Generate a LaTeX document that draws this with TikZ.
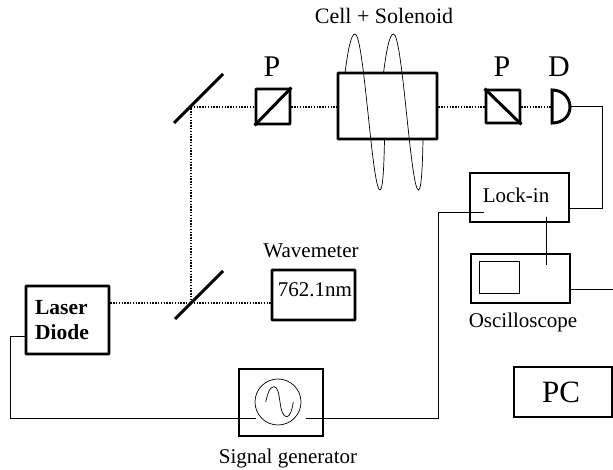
\documentclass[tikz,border=0pt]{standalone}
\usepackage{fontspec}
\setmainfont{Liberation Serif}
\usetikzlibrary{positioning}
\tikzset{
    box/.style={draw, line width=2.8pt, rectangle, rounded corners=0.5pt, inner sep=0pt},
    thinbox/.style={draw, line width=2pt, rectangle, inner sep=0pt},
    beam/.style={line width=2pt, dash pattern=on 1.4pt off 1.4pt},
    wire/.style={line width=1pt},
    optic/.style={line width=3pt},
    coil/.style={line width=0.7pt},
    label/.style={font=\fontsize{21}{24}\selectfont},
    letter/.style={font=\fontsize{30}{32}\selectfont}
}
\begin{document}
\begin{tikzpicture}[x=1pt, y=-1pt]
    \useasboundingbox (0,0) rectangle (613,470);

    % Optical table
    \node (laser) at (67.5,320) [box, minimum width=83pt, minimum height=68pt] {};
    \node (lasertext) at (62,320) [align=left, font=\fontsize{21.5}{25}\selectfont\bfseries] {Laser\\Diode};
    \coordinate (split) at (191,303);
    \coordinate (mirror) at (191,107);
    \node (pol1) at (273,106.5) [box, minimum width=34pt, minimum height=35pt] {};
    \node (cell) at (387.5,106) [box, minimum width=99pt, minimum height=66pt] {};
    \node (pol2) at (503,106.5) [box, minimum width=34pt, minimum height=33pt] {};
    \coordinate (det) at (552,107);
    \coordinate (detout) at (570,107);
    \node (wave) at (313.5,295) [box, minimum width=83pt, minimum height=50pt] {};
    \node (wavetext) at (315,290) [label] {762.1nm};

    % Mirrors and polarisers
    \draw[optic] (175,319) -- (223,271);
    \draw[optic] (174,123) -- (223,74);
    \draw[optic] (pol1.south west) -- (pol1.north east);
    \draw[optic] (pol2.north west) -- (pol2.south east);
    \draw[optic] (552,90) .. controls (563,90) and (570,98) .. (detout) .. controls (570,116) and (563,123) .. (552,123) -- cycle;

    % Beam
    \draw[beam] (laser.east |- split) -- (split);
    \draw[beam] (split) -- (wave.west |- split);
    \draw[beam] (split) -- (mirror);
    \draw[beam] (mirror) -- (pol1.west |- mirror);
    \draw[beam] (pol1.east |- mirror) -- (cell.west |- mirror);
    \draw[beam] (cell.east |- mirror) -- (pol2.west |- mirror);
    \draw[beam] (pol2.east |- mirror) -- (det);

    % Solenoid
    \foreach \turn in {0,38.5} {
        \draw[coil, xshift=\turn] (345,73) .. controls (348,50) and (351,34) .. (355,34)
            .. controls (364,34) and (372,190) .. (380,190)
            .. controls (383,190) and (384,165) .. (384.5,140);
    }

    % Electronics
    \node (lockin) at (519.5,197.5) [thinbox, minimum width=99pt, minimum height=49pt] {};
    \node (locktext) at (516,195) [label] {Lock-in};
    \node (scope) at (520.5,278.5) [thinbox, minimum width=99pt, minimum height=49pt] {};
    \node (screen) at (499,278) [draw, wire, minimum width=40pt, minimum height=32pt, inner sep=0pt] {};
    \node (siggen) at (281,402.5) [thinbox, minimum width=84pt, minimum height=67pt] {};
    \node (osc) at (278,402) [draw, coil, circle, minimum size=46pt, inner sep=0pt] {};
    \node (pc) at (563,392) [thinbox, minimum width=98pt, minimum height=50pt] {};
    \node (pctext) at (561,392) [font=\fontsize{31}{33}\selectfont] {PC};

    \draw[coil] (265.7,402) .. controls (268,392) and (270,386.7) .. (274,386.7)
        .. controls (278,386.7) and (279,395) .. (280,402)
        .. controls (281,410) and (283,416.7) .. (286.7,416.7)
        .. controls (290,416.7) and (292,410) .. (293.3,402);

    \coordinate (lockinL) at (484,213);
    \coordinate (lockinB) at (546,217);
    \coordinate (scopeT) at (546,265);
    \coordinate (scopeR) at (613,290);
    \coordinate (sigL) at (256,418);
    \coordinate (sigR) at (306,418);
    \coordinate (laserL) at (26,336);

    % Wires
    \draw[wire] (detout) -| (602,209) -- (lockin.east |- 0,209);
    \draw[wire] (lockinL) -| (438,418) -- (sigR);
    \draw[wire] (lockinB) -- (scopeT);
    \draw[wire] (scope.east |- scopeR) -- (scopeR);
    \draw[wire] (laserL) -| (10,418) -- (sigL);

    % Labels
    \node (celllabel) at (384,16) [label, font=\fontsize{22}{24}\selectfont] {Cell + Solenoid};
    \node (p1label) at (272,67) [letter] {P};
    \node (p2label) at (502,67) [letter] {P};
    \node (dlabel) at (559,67) [letter] {D};
    \node (wavelabel) at (311,251) [label] {Wavemeter};
    \node (scopelabel) at (523,322) [label] {Oscilloscope};
    \node (siglabel) at (288,458) [label] {Signal generator};
\end{tikzpicture}
\end{document}
